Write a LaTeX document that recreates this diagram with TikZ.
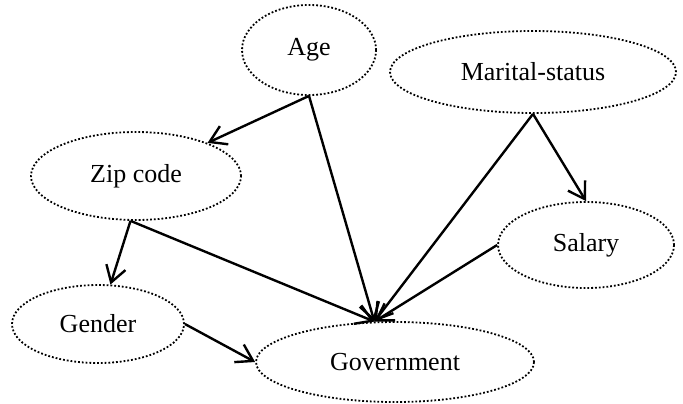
\documentclass[tikz,border=0pt]{standalone}
\usepackage{fontspec}
\setmainfont{Liberation Serif}
\usetikzlibrary{arrows.meta,shapes.geometric}

\begin{document}
\begin{tikzpicture}[x=0.5pt,y=-0.5pt,
    every node/.style={ellipse,draw,densely dotted,line width=0.9pt,inner sep=0pt},
    edge/.style={-{Straight Barb[length=8pt,width=10pt]},line width=1.2pt,solid},
    font=\fontsize{13}{15}\selectfont]

    \useasboundingbox (0,0) rectangle (683,403);

    % Attribute nodes
    \node[minimum width=67pt,minimum height=45pt] (age) at (309,50) {Age};
    \node[minimum width=143pt,minimum height=41pt] (marital) at (533,72) {Marital-status};
    \node[minimum width=105pt,minimum height=44pt] (zip) at (136,176) {Zip code};
    \node[minimum width=88pt,minimum height=43pt] (salary) at (586,245) {Salary};
    \node[minimum width=86pt,minimum height=39pt] (gender) at (98,324) {Gender};
    \node[minimum width=139pt,minimum height=40pt] (gov) at (395,362) {Government};

    % Dependencies
    \draw[edge] (age.south) -- (zip);
    \draw[edge] (age.south) -- (gov.117);
    \draw[edge] (marital.south) -- (salary.north);
    \draw[edge] (marital.south) -- (gov.117);
    \draw[edge] (zip.263) -- (gender);
    \draw[edge] (zip.263) -- (gov.117);
    \draw[edge] (salary.west) -- (gov.117);
    \draw[edge] (gender.east) -- (gov.west);

\end{tikzpicture}
\end{document}
